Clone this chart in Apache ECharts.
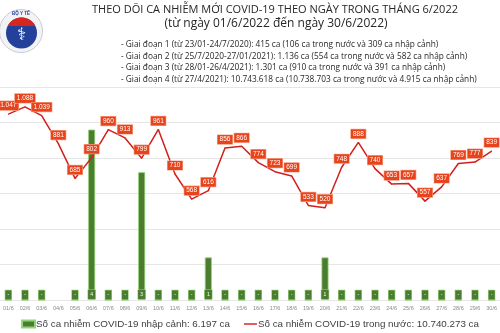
<!DOCTYPE html>
<html>
<head>
<meta charset="utf-8">
<script src="https://cdn.jsdelivr.net/npm/echarts@6/dist/echarts.min.js"></script>
<style>html,body{margin:0;padding:0;background:#fff}#c{width:500px;height:333px}</style>
</head>
<body>
<div id="c"></div>
<script>
var categories = ['01/6','02/6','03/6','04/6','05/6','06/6','07/6','08/6','09/6','10/6','11/6','12/6','13/6','14/6','15/6','16/6','17/6','18/6','19/6','20/6','21/6','22/6','23/6','24/6','25/6','26/6','27/6','28/6','29/6','30/6'];
var domesticCases = [1047,1088,1039,881,685,802,960,913,799,961,710,568,616,856,866,774,723,699,533,520,748,888,740,653,657,557,637,769,777,839];
var importedCases = [0,0,0,null,0,4,0,0,3,0,0,0,1,0,0,0,0,0,0,1,0,0,0,0,0,0,0,0,0,0];
var importedName = 'Số ca nhiễm COVID-19 nhập cảnh: 6.197 ca';
var domesticName = 'Số ca nhiễm COVID-19 trong nước: 10.740.273 ca';
var titleText = 'THEO DÕI CA NHIỄM MỚI COVID-19 THEO NGÀY TRONG THÁNG 6/2022';
var subtitleText = '(từ ngày 01/6/2022 đến ngày 30/6/2022)';
var phaseLines = [
  '- Giai đoạn 1 (từ 23/01-24/7/2020): 415 ca (106 ca trong nước và 309 ca nhập cảnh)',
  '- Giai đoạn 2 (từ 25/7/2020-27/01/2021): 1.136 ca (554 ca trong nước và 582 ca nhập cảnh)',
  '- Giai đoạn 3 (từ 28/01-26/4/2021): 1.301 ca (910 ca trong nước và 391 ca nhập cảnh)',
  '- Giai đoạn 4 (từ 27/4/2021): 10.743.618 ca (10.738.703 ca trong nước và 4.915 ca nhập cảnh)'
];

function fmt(v){ return String(v).replace(/\B(?=(\d{3})+(?!\d))/g,'.'); }

var chart = echarts.init(document.getElementById('c'), null, {renderer:'canvas'});

var lcx = 21.5, lcy = 33, lr = 15.5, chordY = 26;
var segPts = [];
var a0 = Math.asin((lcy - chordY)/lr);
for (var i=0;i<=30;i++){
  var a = a0 + (Math.PI - 2*a0)*i/30;
  segPts.push([lcx + lr*Math.cos(a), lcy - lr*Math.sin(a)]);
}

var graphics = [
  {type:'circle', shape:{cx:21, cy:31, r:21.5}, style:{fill:'#f3f3f6', stroke:'#c9cbd6', lineWidth:1}},
  {type:'circle', shape:{cx:lcx, cy:lcy, r:lr}, style:{fill:'#23409a'}},
  {type:'polygon', shape:{points:segPts}, style:{fill:'#d9261c'}},
  {type:'text', x:lcx, y:36, style:{text:'⚕', fill:'#fff', fontSize:17, fontFamily:'DejaVu Sans', align:'center', verticalAlign:'middle'}},
  {type:'text', x:21, y:14, style:{text:'BỘ Y TẾ', fill:'#23409a', fontSize:4.5, fontWeight:'bold', fontFamily:'Liberation Sans', align:'center', verticalAlign:'middle'}},
  {type:'text', x:275, y:10, style:{text:titleText, fill:'#262626', fontSize:11, fontFamily:'Open Sans', align:'center', verticalAlign:'middle'}},
  {type:'text', x:276, y:24, style:{text:subtitleText, fill:'#262626', fontSize:12, fontFamily:'Open Sans', align:'center', verticalAlign:'middle'}}
];
var phaseY = [45, 56.5, 68, 79.5];
phaseLines.forEach(function(t, i){
  graphics.push({type:'text', x:121, y:phaseY[i], style:{text:t, fill:'#262626', fontSize:8.3, fontFamily:'Open Sans', align:'left', verticalAlign:'middle'}});
});

chart.setOption({
  animation:false,
  backgroundColor:'#fff',
  textStyle:{fontFamily:'Liberation Sans'},
  graphic: graphics,
  grid:{left:-3.5, right:-4.5, top:87, bottom:33, containLabel:false},
  legend:{
    left:'center', top:314, itemGap:14, itemWidth:13, itemHeight:7,
    textStyle:{fontSize:9.8, color:'#404040', fontFamily:'Liberation Sans', padding:[0,0,0,-4]},
    data:[
      {name:importedName, icon:'rect'},
      {name:domesticName, icon:'path://M0 0H20V2.2H0Z'}
    ]
  },
  xAxis:{
    type:'category', data:categories, boundaryGap:true,
    axisLine:{show:false}, axisTick:{show:false},
    axisLabel:{fontSize:5.5, color:'#8a8a8a', margin:5, interval:0}
  },
  yAxis:[
    {type:'value', min:0, max:1200, interval:200, axisLabel:{show:false}, axisLine:{show:false}, axisTick:{show:false},
     splitLine:{lineStyle:{color:'#e6e6e6', width:1}}},
    {type:'value', min:0, max:5, interval:1, axisLabel:{show:false}, axisLine:{show:false}, axisTick:{show:false}, splitLine:{show:false}}
  ],
  series:[
    {
      name:importedName, type:'bar', yAxisIndex:1, data:importedCases, barWidth:7,
      itemStyle:{color:'#4a7d2d', borderColor:'#93d27c', borderWidth:0.8},
      label:{show:true, position:'insideBottom', distance:1, fontSize:5, lineHeight:5, color:'#fff',
        backgroundColor:'#4a7d2d', borderColor:'#93d27c', borderWidth:0.6, padding:[2,2.2],
        formatter:function(p){ return p.value === 0 ? '-' : String(p.value); }},
      z:2
    },
    {
      name:domesticName, type:'line', yAxisIndex:0, data:domesticCases,
      symbol:'circle', symbolSize:1, showSymbol:true,
      lineStyle:{color:'#d21f1b', width:1.5}, itemStyle:{color:'#d21f1b'},
      label:{show:true, position:'top', distance:3.5, fontSize:6.5, lineHeight:7, color:'#fff',
        backgroundColor:'#e8431b', borderColor:'#f7ab93', borderWidth:0.6, padding:[1,2],
        formatter:function(p){ return fmt(p.value); }},
      z:3
    }
  ]
});
</script>
</body>
</html>
